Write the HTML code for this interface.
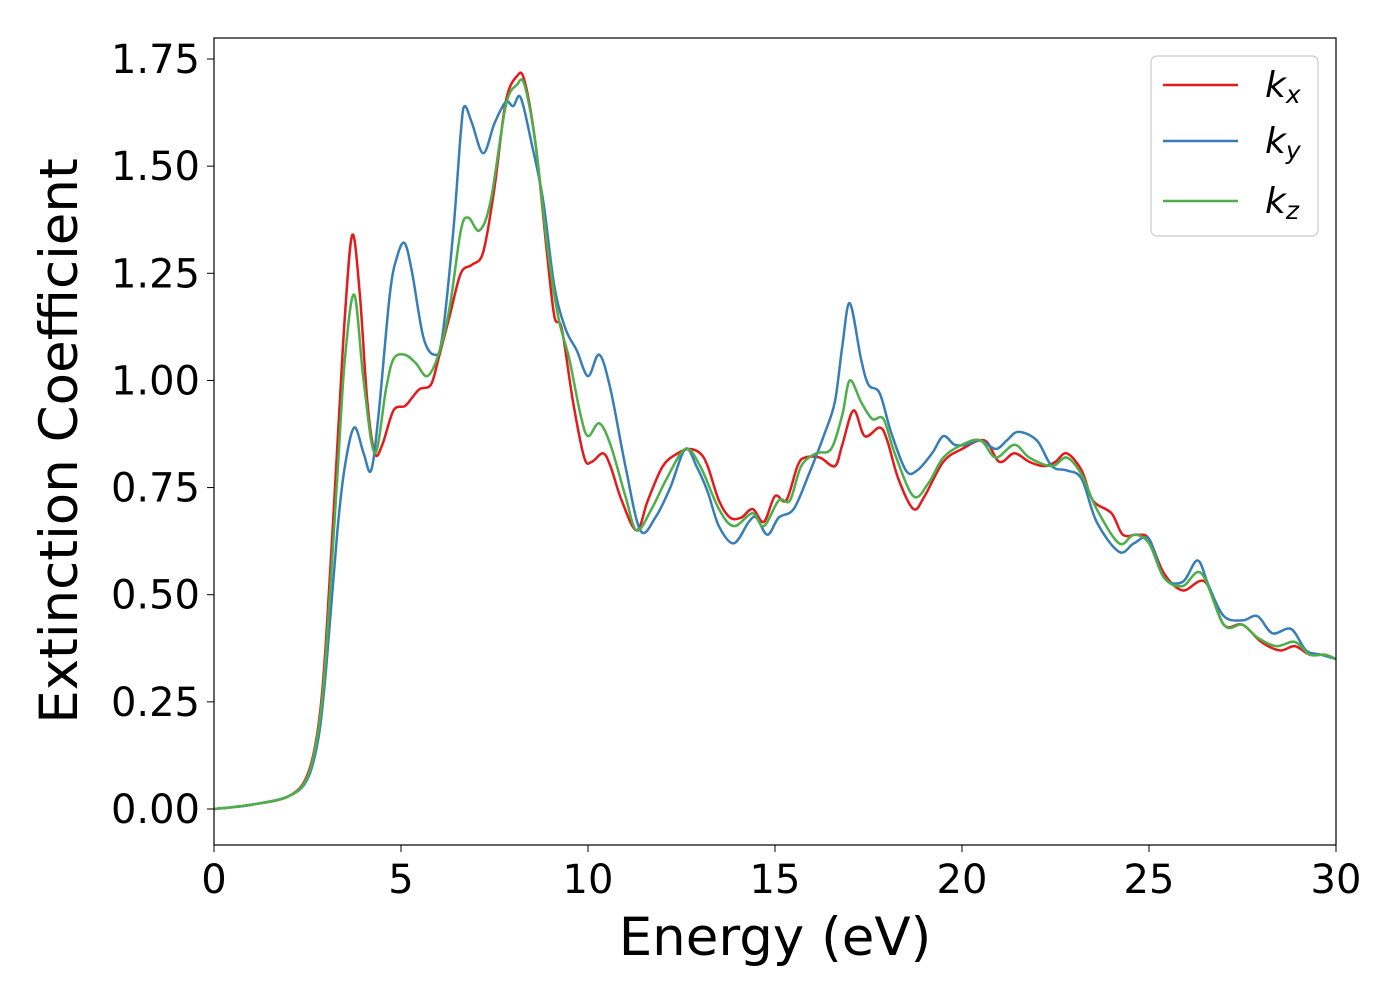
<!DOCTYPE html>
<html><head><meta charset="utf-8"><style>
body{margin:0;background:#fff;}
svg text{font-family:"DejaVu Sans","Liberation Sans",sans-serif;fill:#000;}
</style></head><body>
<svg id="chart" width="1400" height="1000" xmlns="http://www.w3.org/2000/svg">
<g id="series"></g>
<rect x="214" y="38" width="1122" height="807" fill="none" stroke="#000" stroke-width="1.2"/>
<g id="ticks"></g>
<text x="775" y="955" font-size="53" text-anchor="middle">Energy (eV)</text>
<text transform="translate(77,441) rotate(-90)" font-size="53" text-anchor="middle">Extinction Coefficient</text>
<g>
<rect x="1151" y="56" width="167" height="180" rx="6" fill="#fff" fill-opacity="0.8" stroke="#ccc" stroke-width="1.2"/>
<line x1="1163" y1="85" x2="1238" y2="85" stroke="#e41a1c" stroke-width="2.5"/>
<text x="1265" y="97" font-size="36" font-style="italic">k<tspan font-size="25" dy="6">x</tspan></text>
<line x1="1163" y1="141" x2="1238" y2="141" stroke="#377eb8" stroke-width="2.5"/>
<text x="1265" y="153" font-size="36" font-style="italic">k<tspan font-size="25" dy="6">y</tspan></text>
<line x1="1163" y1="201" x2="1238" y2="201" stroke="#4daf4a" stroke-width="2.5"/>
<text x="1265" y="213" font-size="36" font-style="italic">k<tspan font-size="25" dy="6">z</tspan></text>
</g>
</svg>
<script>
const xTicks=[0,5,10,15,20,25,30];
const yTicks=[0,0.25,0.5,0.75,1.0,1.25,1.5,1.75];
const kxE=[0,1,2,2.5,2.8,3.0,3.3,3.5,3.7,3.9,4.1,4.3,4.5,4.8,5.1,5.3,5.5,5.8,6.0,6.3,6.6,6.9,7.2,7.5,7.8,8.1,8.3,8.6,8.9,9.1,9.3,9.6,9.9,10.1,10.4,10.6,10.9,11.3,11.6,12,12.4,12.7,13,13.2,13.5,13.8,14.1,14.4,14.7,15.0,15.3,15.6,15.8,16.2,16.6,16.8,17.1,17.4,17.8,18.0,18.3,18.7,19.0,19.5,20,20.6,21,21.4,21.8,22.2,22.5,22.8,23.2,23.5,24,24.3,24.7,25,25.4,25.9,26.5,27,27.5,28,28.5,28.9,29.3,29.7,30];
const kxV=[0,0.01,0.03,0.08,0.2,0.4,0.85,1.15,1.34,1.2,0.95,0.83,0.85,0.93,0.94,0.96,0.98,0.99,1.05,1.15,1.25,1.27,1.3,1.45,1.65,1.71,1.70,1.55,1.3,1.15,1.12,0.95,0.82,0.81,0.83,0.8,0.72,0.65,0.72,0.8,0.83,0.84,0.83,0.8,0.72,0.68,0.68,0.7,0.67,0.73,0.72,0.8,0.82,0.82,0.8,0.85,0.93,0.87,0.89,0.86,0.77,0.70,0.73,0.81,0.84,0.86,0.81,0.83,0.81,0.80,0.81,0.83,0.79,0.72,0.69,0.64,0.64,0.63,0.55,0.51,0.53,0.43,0.43,0.39,0.37,0.38,0.36,0.36,0.35];
const kyE=[0,1,2,2.5,2.8,3.0,3.3,3.5,3.75,4.0,4.2,4.4,4.7,4.9,5.1,5.3,5.6,5.9,6.1,6.4,6.6,6.7,6.9,7.2,7.5,7.8,8.0,8.2,8.5,8.8,9.1,9.4,9.7,10.0,10.3,10.6,11.0,11.4,11.8,12.2,12.6,12.9,13.2,13.5,13.9,14.3,14.5,14.8,15.1,15.5,15.9,16.3,16.6,16.8,17.0,17.3,17.5,17.8,18.1,18.5,18.8,19.2,19.5,19.8,20.1,20.5,20.9,21.2,21.5,22,22.4,22.8,23.2,23.6,24.2,24.6,25,25.4,25.9,26.3,26.6,27.0,27.5,27.9,28.3,28.8,29.2,29.6,30];
const kyV=[0,0.01,0.03,0.07,0.17,0.33,0.65,0.8,0.89,0.83,0.79,0.92,1.2,1.29,1.32,1.25,1.1,1.06,1.1,1.35,1.58,1.64,1.6,1.53,1.6,1.65,1.64,1.66,1.55,1.42,1.22,1.12,1.07,1.01,1.06,0.98,0.8,0.65,0.68,0.75,0.84,0.8,0.74,0.66,0.62,0.67,0.68,0.64,0.68,0.70,0.78,0.87,0.95,1.08,1.18,1.05,0.99,0.97,0.88,0.79,0.79,0.83,0.87,0.85,0.85,0.86,0.84,0.86,0.88,0.86,0.80,0.79,0.77,0.67,0.60,0.62,0.63,0.54,0.53,0.58,0.52,0.45,0.44,0.45,0.41,0.42,0.37,0.36,0.35];
const kzE=[0,1,2,2.5,2.8,3.0,3.3,3.5,3.75,4.0,4.3,4.6,4.8,5.1,5.4,5.7,6.0,6.3,6.6,6.8,7.1,7.4,7.8,8.1,8.3,8.6,8.9,9.2,9.5,9.8,10.0,10.3,10.6,11.0,11.3,11.7,12.1,12.6,13.0,13.5,13.9,14.4,14.7,15.1,15.4,15.7,16.1,16.5,16.8,17.0,17.3,17.6,17.9,18.2,18.7,19.1,19.5,20,20.5,20.9,21.4,21.8,22.4,22.8,23.2,23.6,24.2,24.6,25,25.4,25.9,26.4,27,27.5,27.9,28.4,28.9,29.3,29.7,30];
const kzV=[0,0.01,0.03,0.075,0.19,0.37,0.78,1.05,1.20,1.0,0.83,0.98,1.05,1.06,1.04,1.01,1.06,1.17,1.35,1.38,1.35,1.42,1.64,1.69,1.69,1.55,1.32,1.15,1.05,0.92,0.87,0.9,0.85,0.73,0.65,0.7,0.77,0.84,0.80,0.70,0.66,0.69,0.66,0.72,0.72,0.80,0.83,0.84,0.92,1.0,0.95,0.91,0.91,0.83,0.73,0.76,0.82,0.85,0.86,0.82,0.85,0.82,0.80,0.82,0.78,0.70,0.62,0.64,0.62,0.54,0.52,0.55,0.43,0.43,0.40,0.38,0.39,0.36,0.36,0.35];
const X0=214,X1=1336,Y0=809,YPU=428.57;
function sx(v){return X0+(v-0)/30*(X1-X0);}
function sy(v){return Y0-v*YPU;}
const NS='http://www.w3.org/2000/svg';
function pathFor(E,V){
  const p=E.map((e,i)=>[sx(e),sy(V[i])]);
  let d='M'+p[0][0]+','+p[0][1];
  for(let i=0;i<p.length-1;i++){
    const a=p[Math.max(0,i-1)],b=p[i],c=p[i+1],e=p[Math.min(p.length-1,i+2)];
    const c1x=b[0]+(c[0]-a[0])/6,c1y=b[1]+(c[1]-a[1])/6,c2x=c[0]-(e[0]-b[0])/6,c2y=c[1]-(e[1]-b[1])/6;
    d+=' C'+c1x+','+c1y+' '+c2x+','+c2y+' '+c[0]+','+c[1];
  }
  return d;
}
const g=document.getElementById('series');
[[kxE,kxV,'#e41a1c','line-kx'],[kyE,kyV,'#377eb8','line-ky'],[kzE,kzV,'#4daf4a','line-kz']].forEach(s=>{
  const el=document.createElementNS(NS,'path');
  el.setAttribute('d',pathFor(s[0],s[1]));
  el.setAttribute('fill','none');el.setAttribute('stroke',s[2]);el.setAttribute('stroke-width','2.5');
  
  
  g.appendChild(el);
});
const t=document.getElementById('ticks');
xTicks.forEach(v=>{
  const l=document.createElementNS(NS,'line');
  l.setAttribute('x1',sx(v));l.setAttribute('x2',sx(v));l.setAttribute('y1',845);l.setAttribute('y2',852);l.setAttribute('stroke','#000');
  
  
  t.appendChild(l);
  const tx=document.createElementNS(NS,'text');
  tx.setAttribute('x',sx(v));tx.setAttribute('y',893);tx.setAttribute('font-size','40');tx.setAttribute('text-anchor','middle');
  tx.textContent=v;
  
  
  t.appendChild(tx);
});
yTicks.forEach(v=>{
  const l=document.createElementNS(NS,'line');
  l.setAttribute('x1',207);l.setAttribute('x2',214);l.setAttribute('y1',sy(v));l.setAttribute('y2',sy(v));l.setAttribute('stroke','#000');
  
  
  t.appendChild(l);
  const tx=document.createElementNS(NS,'text');
  tx.setAttribute('x',200);tx.setAttribute('y',sy(v)+14);tx.setAttribute('font-size','40');tx.setAttribute('text-anchor','end');
  tx.textContent=v.toFixed(2);
  
  
  t.appendChild(tx);
});
</script>
</body></html>
